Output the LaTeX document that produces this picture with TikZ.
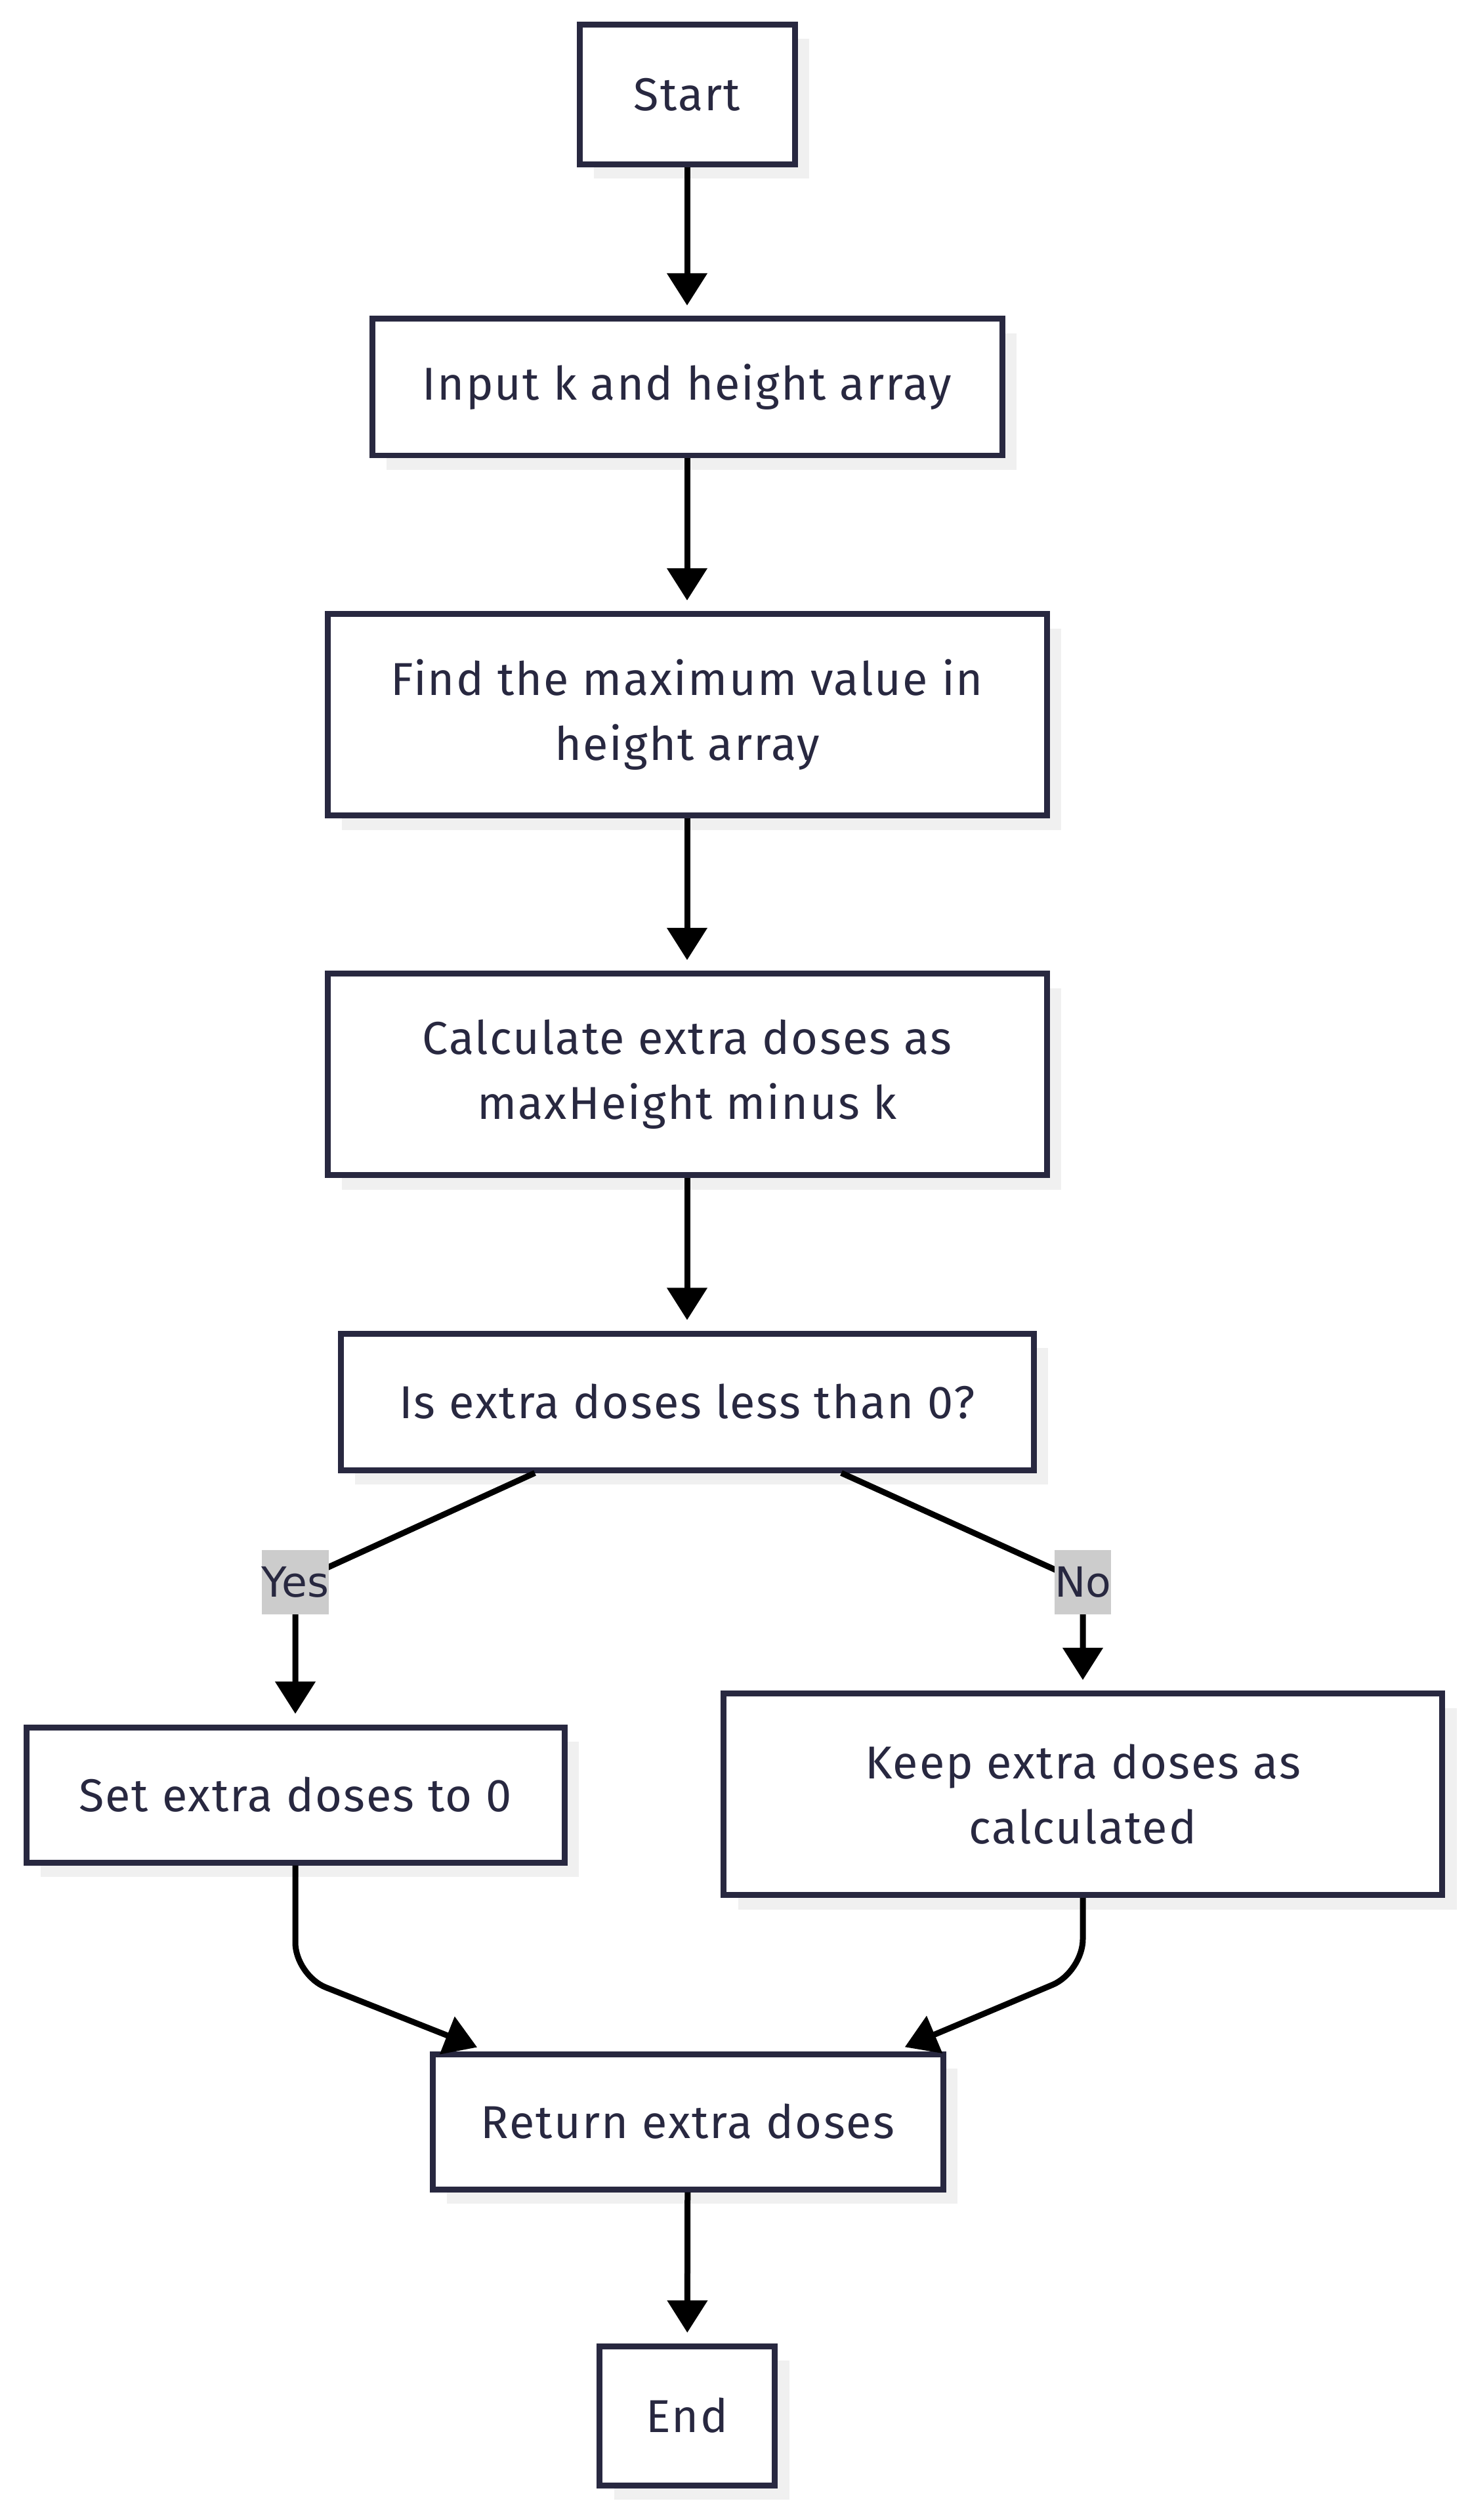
\documentclass[tikz,border=0pt]{standalone}
\usepackage{fontspec}
\setmainfont{Fira Sans}[LetterSpace=3]
\newfontfamily\labelfont{DejaVu Sans}
\usetikzlibrary{arrows.meta,shadows}
\definecolor{boxline}{RGB}{40,40,64}
\definecolor{boxshadow}{RGB}{240,240,240}
\definecolor{labelgrey}{RGB}{204,204,204}

\begin{document}
\begin{tikzpicture}[>={Triangle[width=17pt,length=14pt]},
  stepbox/.style={rectangle, draw=boxline, line width=0.09cm, fill=white, text=boxline,
    drop shadow={shadow xshift=0.22cm, shadow yshift=-0.22cm, fill=boxshadow, opacity=1},
    inner sep=0pt, align=center, font=\fontsize{20}{28}\selectfont},
  flow/.style={->, line width=0.09cm, black, shorten >=0.16cm},
  choice/.style={fill=labelgrey, text=boxline, inner xsep=0pt, inner ysep=0pt,
    minimum height=0.98cm, font=\labelfont\fontsize{18}{22}\selectfont}]
\useasboundingbox (0,0) rectangle (22.39,-38.40);
\node (start) at (10.47,-1.44) [stepbox, minimum width=3.28cm, minimum height=2.13cm] {Start};
\node (input) at (10.47,-5.90) [stepbox, minimum width=9.60cm, minimum height=2.08cm] {Input k and height array};
\node (findmax) at (10.47,-10.89) [stepbox, minimum width=10.96cm, minimum height=3.07cm] {Find the maximum value in\\height array};
\node (calc) at (10.47,-16.37) [stepbox, minimum width=10.96cm, minimum height=3.07cm] {Calculate extra doses as\\maxHeight minus k};
\node (check) at (10.47,-21.36) [stepbox, minimum width=10.56cm, minimum height=2.08cm] {Is extra doses less than 0?};
\node (setzero) at (4.50,-27.35) [stepbox, minimum width=8.20cm, minimum height=2.06cm] {Set extra doses to 0};
\node (keep) at (16.50,-27.34) [stepbox, minimum width=10.95cm, minimum height=3.07cm] {Keep extra doses as\\calculated};
\node (return) at (10.48,-32.33) [stepbox, minimum width=7.78cm, minimum height=2.06cm] {Return extra doses};
\node (end) at (10.47,-36.81) [stepbox, minimum width=2.67cm, minimum height=2.12cm] {End};
\coordinate (yesbend) at (4.50,-24.11);
\coordinate (nobend) at (16.50,-24.11);
\coordinate (setbend) at (4.50,-30.10);
\coordinate (keepbend) at (16.50,-30.05);
\draw[flow] (start) -- (input);
\draw[flow] (input) -- (findmax);
\draw[flow] (findmax) -- (calc);
\draw[flow] (calc) -- (check);
\draw[flow] ([xshift=-2.32cm]check.south) -- (yesbend) node[choice] (yes) {Yes} -- (setzero);
\draw[flow] ([xshift=2.35cm]check.south) -- (nobend) node[choice] (no) {No} -- (keep);
\draw[flow, rounded corners=0.5cm] (setzero) -- (setbend) -- ([xshift=-3.06cm]return.north);
\draw[flow, rounded corners=0.5cm] (keep) -- (keepbend) -- ([xshift=3.16cm]return.north);
\draw[flow] (return) -- (end);
\end{tikzpicture}
\end{document}
